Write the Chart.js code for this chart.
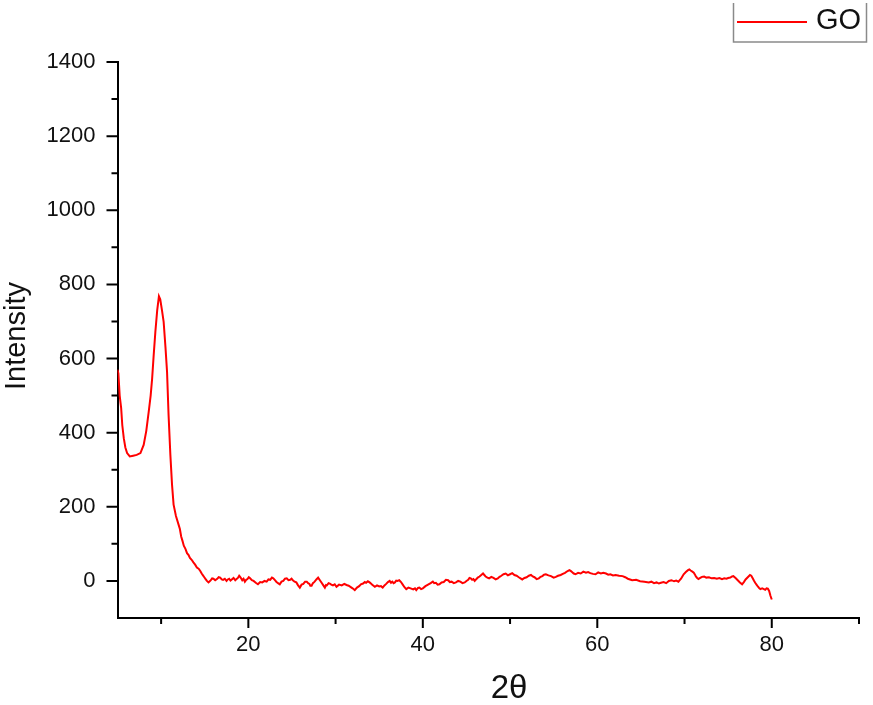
<!DOCTYPE html>
<html><head><meta charset="utf-8">
<script src="https://cdn.jsdelivr.net/npm/chart.js@4.4.1/dist/chart.umd.min.js"></script>
<style>html,body{margin:0;padding:0;background:#fff;}#wrap{width:873px;height:705px;position:relative;}</style>
</head><body><div id="wrap"><canvas id="c"></canvas></div>
<script>
const seriesName = 'GO';
const xTitle = '2θ';
const yTitle = 'Intensity';
const xRange = [5, 90];
const yRange = [-100, 1400];
const xTickValues = [20, 40, 60, 80];
const xMinorTickValues = [10, 30, 50, 70, 90];
const yTickValues = [0, 200, 400, 600, 800, 1000, 1200, 1400];
const yMinorTickValues = [100, 300, 500, 700, 900, 1100, 1300];

const twoTheta = [
  5.0,5.1,5.25,5.42,5.55,5.72,5.9,6.1,6.41,6.8,7.2,7.63,8.0,8.3,8.58,8.8,8.97,9.15,9.34,9.55,9.75,9.9,10.1,10.29,10.5,10.68,10.85,11.06,11.25,11.43,11.7,
  12.0,12.15,12.3,12.45,12.6,12.8,12.97,13.15,13.3,13.5,13.7,13.9,14.1,14.3,14.49,14.65,14.8,14.95,15.1,15.25,
  15.43,15.6,15.7,15.85,16.0,16.2,16.4,16.6,16.77,16.95,
  17.1,17.3,17.5,17.65,17.8,17.95,18.1,18.3,18.5,18.65,
  18.8,18.95,19.06,19.2,19.3,19.45,19.6,19.75,19.9,20.05,
  20.2,20.4,20.6,20.85,21.1,21.35,21.6,21.85,22.1,22.3,
  22.5,22.7,22.86,23.05,23.2,23.4,23.6,23.8,24.0,24.2,
  24.4,24.6,24.8,24.95,25.1,25.3,25.5,25.7,25.9,26.1,
  26.3,26.5,26.7,26.85,27.0,27.1,27.25,27.4,27.6,27.8,
  28.0,28.2,28.4,28.6,28.77,28.9,29.0,29.2,29.34,29.5,
  29.7,29.9,30.1,30.4,30.7,31.0,31.25,31.5,31.7,31.95,
  32.2,32.45,32.7,32.9,33.15,33.35,33.5,33.7,33.9,34.05,
  34.2,34.35,34.5,34.75,35.0,35.2,35.4,35.6,35.8,36.0,
  36.2,36.35,36.5,36.65,36.8,36.95,37.1,37.3,37.5,37.7,
  37.9,38.1,38.35,38.6,38.9,39.1,39.25,39.45,39.6,39.8,
  40.0,40.3,40.6,40.9,41.15,41.3,41.5,41.7,41.9,42.15,
  42.4,42.65,42.9,43.1,43.3,43.55,43.8,44.05,44.3,44.55,
  44.8,45.0,45.2,45.35,45.5,45.65,45.8,45.95,46.1,46.3,
  46.5,46.7,46.9,47.05,47.2,47.4,47.6,47.85,48.1,48.35,
  48.6,48.8,49.0,49.25,49.5,49.75,50.0,50.25,50.5,50.75,
  51.0,51.2,51.4,51.65,51.9,52.15,52.4,52.6,52.8,53.05,
  53.3,53.5,53.7,53.9,54.1,54.4,54.7,55.0,55.25,55.5,
  55.8,56.05,56.3,56.55,56.8,56.95,57.1,57.3,57.5,57.8,
  58.1,58.4,58.7,58.95,59.2,59.5,59.8,60.1,60.4,60.7,
  61.0,61.25,61.5,61.8,62.1,62.5,62.9,63.2,63.5,63.75,
  64.0,64.45,64.9,65.4,65.9,66.2,66.5,66.8,67.06,67.3,
  67.6,67.9,68.2,68.5,68.8,69.05,69.3,69.45,69.6,69.75,
  69.9,70.15,70.4,70.55,70.7,70.9,71.06,71.2,71.3,71.45,
  71.6,71.8,72.0,72.25,72.5,72.8,73.1,73.4,73.7,74.0,
  74.3,74.55,74.8,75.0,75.25,75.45,75.6,75.85,76.1,76.35,
  76.6,76.8,77.0,77.25,77.5,77.65,77.8,77.95,78.1,78.25,
  78.4,78.55,78.7,78.9,79.1,79.25,79.4,79.55,79.7,79.85,80.0
];
const intensity = [
  570,560,500,466,420,385,360,345,336,338,340,345,367,405,457,500,546,610,672,730,768,760,730,699,630,564,450,340,260,206,175,
  152,140,120,108,95,86,75,70,62,57,50,44,36,33,27,20,15,10,5,0,
  -4,0,2,7,6,2,5,10,9,4,
  3,6,0,4,6,1,4,8,2,5,
  8,14,11,6,2,6,-2,3,5,10,
  7,2,0,-5,-9,-3,-4,0,-2,4,
  3,9,7,2,-2,-6,-9,-2,0,6,
  7,2,3,6,2,-2,-4,-12,-18,-10,
  -8,-2,-2,-6,-8,-13,-13,-6,-2,4,
  9,2,-5,-12,-18,-11,-12,-6,-7,-10,
  -12,-9,-16,-10,-12,-8,-11,-13,-16,-20,
  -25,-18,-14,-9,-7,-3,-5,-1,-4,-7,
  -10,-13,-16,-12,-15,-14,-18,-12,-8,-3,
  0,-5,-2,-6,-4,1,0,2,-3,-10,
  -17,-22,-18,-20,-23,-20,-25,-19,-18,-22,
  -20,-14,-10,-6,-2,-6,-5,-10,-9,-4,
  -3,3,2,-3,-2,-6,-4,0,-2,-6,
  -4,0,3,8,7,3,5,0,4,9,
  12,16,20,16,12,9,7,11,8,4,
  7,11,14,18,20,15,18,21,16,14,
  10,7,4,8,10,14,16,12,10,5,
  7,11,13,17,18,15,13,9,11,14,
  16,19,22,26,29,27,24,20,18,22,
  20,25,22,24,21,19,18,23,20,22,
  20,17,18,15,16,14,13,10,6,4,
  2,3,-1,-2,-4,-2,-6,-4,-7,-5,
  -3,-6,0,2,-1,1,-2,2,6,12,
  18,24,29,31,28,25,22,17,12,8,
  5,8,11,12,9,10,7,8,6,8,
  5,7,6,8,9,12,13,8,2,-4,
  -9,-3,4,10,16,14,8,1,-5,-10,
  -15,-19,-22,-20,-22,-24,-20,-21,-27,-40,-50
];

const points = twoTheta.map((x, i) => ({ x: x, y: intensity[i] }));
const FONT = "'Liberation Sans', Arial, sans-serif";
const TEXT = '#111111';

const decor = {
  id: 'decor',
  afterDraw(chart) {
    const ctx = chart.ctx;
    const xs = chart.scales.x, ys = chart.scales.y;
    const ca = chart.chartArea;
    ctx.save();
    ctx.strokeStyle = '#000';
    ctx.lineWidth = 2;
    ctx.beginPath();
    xTickValues.forEach(v => { const p = xs.getPixelForValue(v); ctx.moveTo(p, ca.bottom); ctx.lineTo(p, ca.bottom + 10); });
    xMinorTickValues.forEach(v => { const p = xs.getPixelForValue(v); ctx.moveTo(p, ca.bottom); ctx.lineTo(p, ca.bottom + 6); });
    yTickValues.forEach(v => { const p = ys.getPixelForValue(v); ctx.moveTo(ca.left, p); ctx.lineTo(ca.left - 11, p); });
    yMinorTickValues.forEach(v => { const p = ys.getPixelForValue(v); ctx.moveTo(ca.left, p); ctx.lineTo(ca.left - 6, p); });
    ctx.stroke();
    // axis titles
    ctx.fillStyle = TEXT;
    ctx.font = '33px ' + FONT;
    ctx.textAlign = 'center';
    ctx.textBaseline = 'middle';
    ctx.fillText(xTitle, 509, 689);
    ctx.save();
    ctx.translate(17, 336);
    ctx.rotate(-Math.PI / 2);
    ctx.font = '29px ' + FONT;
    ctx.fillText(yTitle, 0, 0);
    ctx.restore();
    // legend
    ctx.strokeStyle = '#8a8a8a';
    ctx.lineWidth = 1.5;
    ctx.beginPath();
    ctx.moveTo(733.5, 3); ctx.lineTo(733.5, 42); ctx.lineTo(866.5, 42); ctx.lineTo(866.5, 3);
    ctx.stroke();
    const ds = chart.data.datasets[0];
    ctx.strokeStyle = ds.borderColor;
    ctx.lineWidth = 2;
    ctx.beginPath(); ctx.moveTo(737, 22); ctx.lineTo(807, 22); ctx.stroke();
    ctx.fillStyle = TEXT;
    ctx.font = '29px ' + FONT;
    ctx.textAlign = 'left';
    ctx.fillText(ds.label, 816, 21);
    ctx.restore();
  }
};

new Chart(document.getElementById('c'), {
  type: 'line',
  data: { datasets: [{ label: seriesName, data: points, borderColor: '#ff0000', borderWidth: 2, pointRadius: 0, tension: 0, fill: false }] },
  options: {
    responsive: true, maintainAspectRatio: false, animation: false, devicePixelRatio: 1,
    layout: { padding: { top: 62, right: 14, left: 0, bottom: 0 } },
    plugins: { legend: { display: false }, tooltip: { enabled: false } },
    scales: {
      x: {
        type: 'linear', min: xRange[0], max: xRange[1],
        afterBuildTicks: s => { s.ticks = xTickValues.map(v => ({ value: v })); },
        afterFit: s => { s.height = 87; },
        grid: { display: false, drawTicks: false },
        border: { display: true, color: '#000', width: 2 },
        ticks: { padding: 14, color: TEXT, font: { family: FONT, size: 22 }, maxRotation: 0, callback: v => String(v) }
      },
      y: {
        type: 'linear', min: yRange[0], max: yRange[1],
        afterBuildTicks: s => { s.ticks = yTickValues.map(v => ({ value: v })); },
        afterFit: s => { s.width = 117.5; },
        grid: { display: false, drawTicks: false },
        border: { display: true, color: '#000', width: 2 },
        ticks: { padding: 22, color: TEXT, font: { family: FONT, size: 22 }, callback: v => String(v) }
      }
    }
  },
  plugins: [decor]
});
</script></body></html>
